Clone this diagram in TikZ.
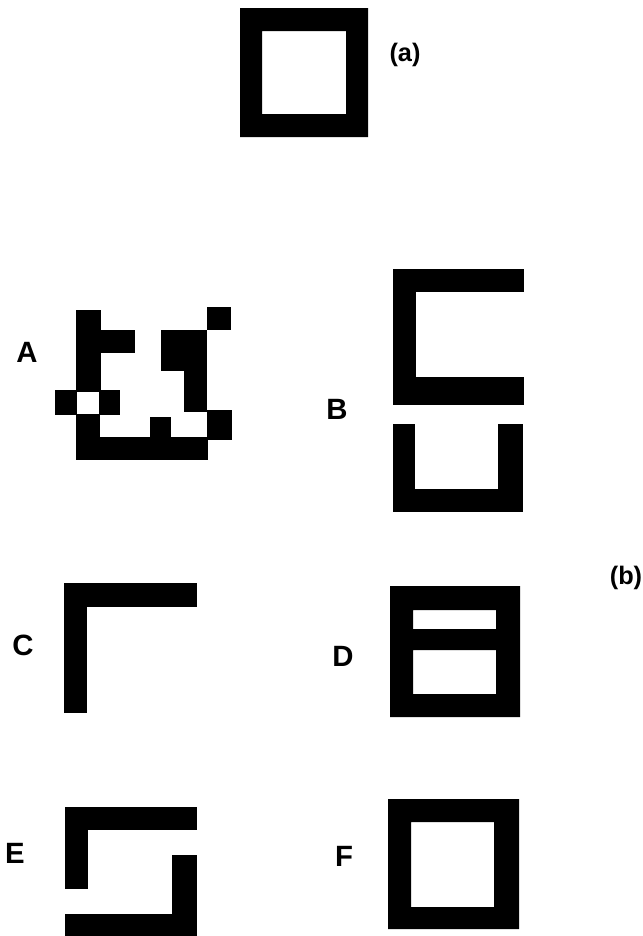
\documentclass[tikz,border=0pt]{standalone}
\usepackage{fontspec}
\setmainfont{Liberation Sans}
\usepackage{tikz}

\begin{document}
\begin{tikzpicture}[x=0.75pt,y=0.75pt,yscale=-1,xscale=1,
    blk/.style={fill=black,draw=none},
    frame/.style={fill=black,draw=none,even odd rule},
    lbl/.style={font=\bfseries\fontsize{22}{24}\selectfont,inner sep=0.75pt},
    tag/.style={font=\bfseries\fontsize{19}{22}\selectfont,inner sep=0.75pt}]
        \useasboundingbox (0,0) rectangle (643,936);

        %Shape: Frame (a)
        \fill [frame] (240,8) rectangle (368,137) (262,31) rectangle (346,114);

        %Shape: Pattern A
        \fill [blk] (76,310) rectangle (101,392);
        \fill [blk] (101,330) rectangle (135,353);
        \fill [blk] (55,390) rectangle (77,415);
        \fill [blk] (99,390) rectangle (120,415);
        \fill [blk] (76,414) rectangle (100,438);
        \fill [blk] (76,437) rectangle (208,460);
        \fill [blk] (150,417) rectangle (171,438);
        \fill [blk] (161,330) rectangle (207,371);
        \fill [blk] (184,370) rectangle (207,412);
        \fill [blk] (207,307) rectangle (231,330);
        \fill [blk] (207,410) rectangle (232,440);

        %Shape: Pattern B, upper
        \fill [blk] (393,269) rectangle (524,292);
        \fill [blk] (393,269) rectangle (416,405);
        \fill [blk] (393,377) rectangle (524,405);
        %Shape: Pattern B, lower
        \fill [blk] (393,424) rectangle (415,512);
        \fill [blk] (498,424) rectangle (523,512);
        \fill [blk] (393,489) rectangle (523,512);

        %Shape: Pattern C
        \fill [blk] (64,583) rectangle (87,713);
        \fill [blk] (64,583) rectangle (197,607);

        %Shape: Pattern D
        \fill [frame] (390,586) rectangle (520,717) (413,610) rectangle (496,629) (413,650) rectangle (496,694);

        %Shape: Pattern E
        \fill [blk] (65,807) rectangle (197,830);
        \fill [blk] (65,807) rectangle (88,889);
        \fill [blk] (172,855) rectangle (197,936);
        \fill [blk] (65,914) rectangle (197,936);

        %Shape: Pattern F
        \fill [frame] (388,799) rectangle (519,929) (411,822) rectangle (494,907);

        % Text Node
        \node [tag] (taga) at (405,55) {(a)};
        % Text Node
        \node [tag] (tagb) at (626,578) {(b)};
        % Text Node
        \node [lbl] (labA) at (27,352) {A};
        % Text Node
        \node [lbl] (labB) at (337,409) {B};
        % Text Node
        \node [lbl] (labC) at (23,645) {C};
        % Text Node
        \node [lbl] (labD) at (343,656) {D};
        % Text Node
        \node [lbl] (labE) at (15,853) {E};
        % Text Node
        \node [lbl] (labF) at (344,856) {F};

    \end{tikzpicture}
\end{document}
